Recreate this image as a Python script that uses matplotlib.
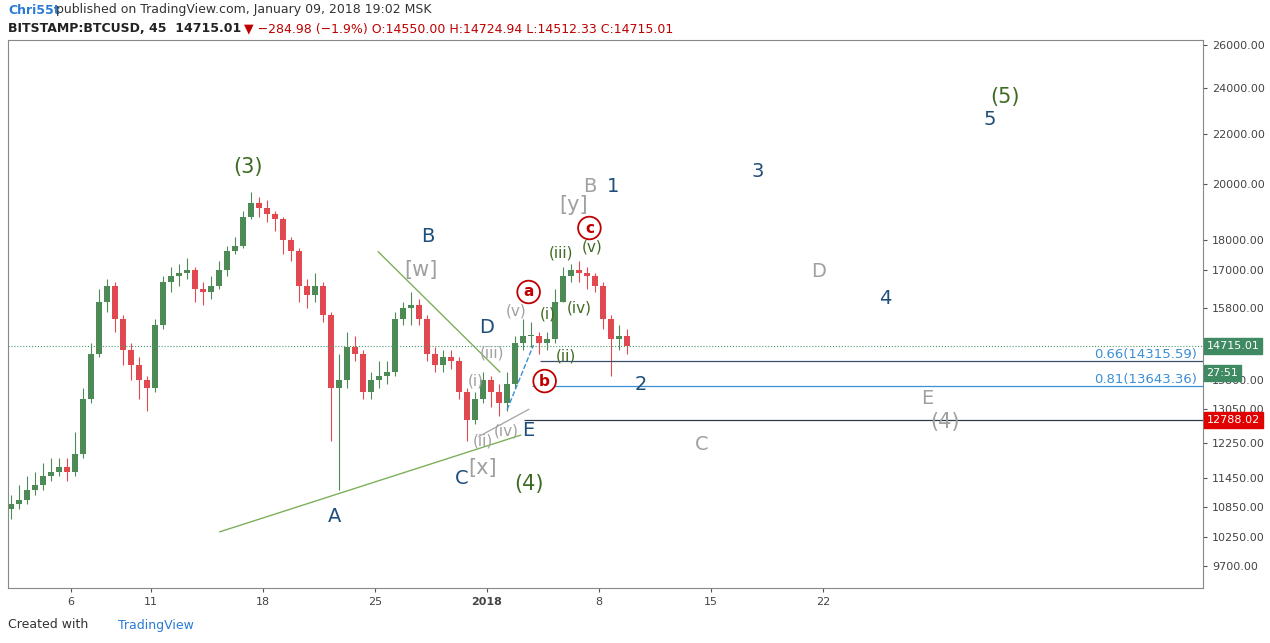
import matplotlib
matplotlib.use("Agg")
import matplotlib.pyplot as plt
from matplotlib.ticker import FixedLocator, NullLocator
import numpy as np

# 12-hour candles starting Dec 2 2017 (day offsets relative to Dec 6)
closes = [10900, 11000, 11200, 11300, 11500, 11600, 11700, 11600, 12000, 13300,
          14500, 16000, 16500, 15500, 14600, 14200, 13800, 13600, 15300, 16600,
          16800, 16900, 17000, 16400, 16300, 16500, 17000, 17600, 17800, 18800,
          19300, 19100, 18900, 18700, 18000, 17600, 16500, 16200, 16500, 15600,
          13600, 13800, 14700, 14500, 13500, 13800, 13900, 14000, 15500, 15800,
          15900, 15500, 14500, 14200, 14400, 14300, 13500, 12800, 13300, 13800,
          13500, 13200, 13700, 14800, 15000, 15000, 14800, 14900, 16000, 16800,
          17000, 16900, 16800, 16500, 15500, 14900, 15000, 14715]
highs = [11100, 11300, 11500, 11600, 11800, 11900, 11900, 11900, 12500, 13600,
         14800, 16400, 16700, 16600, 15600, 14800, 14400, 13900, 15500, 16800,
         17100, 17200, 17400, 17100, 16600, 16800, 17300, 17800, 18100, 19000,
         19700, 19500, 19400, 19000, 18800, 18100, 17700, 16700, 16900, 16600,
         15700, 14500, 15100, 15000, 14600, 14000, 14300, 14300, 15700, 16000,
         16300, 16100, 15600, 14700, 14600, 14600, 14400, 13600, 13500, 14000,
         13900, 13700, 14000, 15000, 15500, 15400, 15100, 15100, 16400, 17100,
         17200, 17300, 17100, 16900, 16600, 15600, 15300, 15200]
lows = [10600, 10800, 10900, 11100, 11200, 11400, 11500, 11400, 11500, 11900,
        13200, 14400, 15700, 15100, 14200, 13800, 13300, 13000, 13500, 15200,
        16300, 16500, 16700, 16000, 15900, 16100, 16400, 16800, 17500, 17700,
        18700, 18800, 18600, 18300, 17500, 17300, 16000, 15800, 16000, 15400,
        12300, 11200, 13600, 14300, 13300, 13300, 13600, 13700, 13900, 15300,
        15300, 15300, 14300, 14000, 14000, 14100, 13300, 12300, 12700, 13200,
        13100, 12900, 13000, 13600, 14600, 14700, 14500, 14600, 14800, 16000,
        16600, 16600, 16400, 16300, 15200, 13900, 14600, 14500]
first_open = 10800

xtick_pos = [0, 5, 12, 19, 26, 33, 40, 47]
xtick_lbl = ["6", "11", "18", "25", "2018", "8", "15", "22"]
ytick_vals = [26000, 24000, 22000, 20000, 18000, 17000, 15800, 13800, 13050,
              12250, 11450, 10850, 10250, 9700]

# wave labels: (text, day, price, color, size, circled)
GREEN, BLUE, GRAY, RED = "#3e6b22", "#1f4e7a", "#a0a0a0", "#c00000"
labels = [
    ("(3)", 11.06, 20650, GREEN, 15, False), ("B", 22.3, 18090, BLUE, 14, False),
    ("[w]", 21.9, 17000, GRAY, 15, False), ("A", 16.5, 10660, BLUE, 14, False),
    ("C", 24.4, 11460, BLUE, 14, False), ("[x]", 25.75, 11680, GRAY, 15, False),
    ("(4)", 28.6, 11340, GREEN, 15, False), ("E", 28.56, 12530, BLUE, 14, False),
    ("(iv)", 27.2, 12530, GRAY, 11, False), ("(ii)", 25.75, 12290, GRAY, 11, False),
    ("(i)", 25.3, 13770, GRAY, 11, False), ("(iii)", 26.3, 14520, GRAY, 11, False),
    ("(v)", 27.8, 15720, GRAY, 11, False), ("D", 26.0, 15250, BLUE, 14, False),
    ("a", 28.6, 16300, RED, 11, True), ("b", 29.6, 13770, RED, 11, True),
    ("c", 32.4, 18400, RED, 11, True),
    ("(i)", 29.8, 15640, GREEN, 11, False), ("(ii)", 30.9, 14440, GREEN, 11, False),
    ("(iii)", 30.6, 17550, GREEN, 11, False), ("(iv)", 31.75, 15820, GREEN, 11, False),
    ("(v)", 32.6, 17750, GREEN, 11, False),
    ("[y]", 31.4, 19220, GRAY, 15, False), ("B", 32.4, 19890, GRAY, 14, False),
    ("1", 33.9, 19890, BLUE, 14, False), ("2", 35.6, 13670, BLUE, 14, False),
    ("C", 39.4, 12200, GRAY, 14, False), ("3", 42.9, 20460, BLUE, 14, False),
    ("D", 46.7, 16930, GRAY, 14, False), ("4", 50.9, 16110, BLUE, 14, False),
    ("E", 53.5, 13310, GRAY, 14, False), ("(4)", 54.6, 12740, GRAY, 15, False),
    ("5", 57.4, 22580, BLUE, 14, False), ("(5)", 58.4, 23580, GREEN, 15, False),
]

fig = plt.figure(figsize=(12.7, 6.43), dpi=100)
ax = fig.add_axes([8/1270, 1-588/643, 1195/1270, 548/643])
ax.set_yscale("log")
ax.set_xlim(-3.94, 70.75)
ax.set_ylim(9305, 26270)

opens = [first_open] + closes[:-1]
for i, (o, h, l, c) in enumerate(zip(opens, highs, lows, closes)):
    x = -4 + i / 2 + 0.25
    col = "#4d8a55" if c >= o else "#e0494f"
    ax.vlines(x, l, h, color=col, lw=0.8)
    ax.bar(x, abs(c - o) or 20, bottom=min(o, c), width=0.32, color=col, lw=0)

# trendlines
ax.plot([9.3, 28.1], [10350, 12430], color="#7cb05a", lw=1)
ax.plot([19.2, 26.8], [17590, 14010], color="#7cb05a", lw=1)
ax.plot([27.25, 28.9], [13040, 14740], color="#3b8fd6", lw=1, ls="--")
ax.plot([25.5, 28.6], [12400, 13050], color="#aaaaaa", lw=1)

# horizontal levels
ax.axhline(14715.01, color="#4a9a6a", lw=0.8, ls=":")
ax.hlines(14315.59, 29.3, 70.75, color="#3a4f6a", lw=0.9)
ax.hlines(13643.36, 28.8, 70.75, color="#3b8fd6", lw=0.9)
ax.hlines(12788.02, 28.3, 70.75, color="#2a3a4a", lw=0.9)
ax.text(70.4, 14315.59, "0.66(14315.59)", color="#3b8fd6", fontsize=9.5,
        ha="right", va="bottom")
ax.text(70.4, 13643.36, "0.81(13643.36)", color="#3b8fd6", fontsize=9.5,
        ha="right", va="bottom")

for t, x, y, col, s, circ in labels:
    if circ:
        ax.text(x, y, t, color=RED, fontsize=s, ha="center", va="center",
                fontweight="bold",
                bbox=dict(boxstyle="circle,pad=0.25", fc="white", ec=RED, lw=1.3))
    else:
        ax.text(x, y, t, color=col, fontsize=s, ha="center", va="center")

# axes styling
ax.grid(False)
for sp in ax.spines.values():
    sp.set_color("#888888")
    sp.set_linewidth(0.8)
ax.yaxis.tick_right()
ax.yaxis.set_major_locator(FixedLocator(ytick_vals))
ax.yaxis.set_minor_locator(NullLocator())
ax.set_yticklabels([f"{v:.2f}" for v in ytick_vals], fontsize=8, color="#444444")
ax.xaxis.set_major_locator(FixedLocator(xtick_pos))
ax.set_xticklabels(xtick_lbl, fontsize=8, color="#444444")
for lbl in ax.get_xticklabels():
    if lbl.get_text() == "2018":
        lbl.set_fontweight("bold")
ax.tick_params(length=3, color="#555555")

# right price tags
def tag(price, text, fc):
    ax.text(1.003, price, text, transform=ax.get_yaxis_transform(), fontsize=8,
            color="white", va="center", ha="left",
            bbox=dict(boxstyle="square,pad=0.25", fc=fc, ec=fc))
tag(14715.01, "14715.01", "#3f8a63")
tag(13980, "27:51", "#3f8a63")
tag(12788.02, "12788.02", "#e00000")

fig.text(8/1270, 1-10/643, "Chri55t", color="#2a7bd6", fontsize=9, va="center",
         fontweight="bold")
fig.text(56/1270, 1-10/643, "published on TradingView.com, January 09, 2018 19:02 MSK",
         color="#333333", fontsize=9, va="center")
fig.text(8/1270, 1-29/643, "BITSTAMP:BTCUSD, 45  14715.01", color="#222222",
         fontsize=9, va="center", fontweight="bold")
fig.text(244/1270, 1-29/643, "\u25bc \u2212284.98 (\u22121.9%) O:14550.00 H:14724.94 L:14512.33 C:14715.01",
         color="#c00000", fontsize=9, va="center")
fig.text(8/1270, 1-625/643, "Created with", color="#333333", fontsize=9, va="center")
fig.text(118/1270, 1-625/643, "TradingView", color="#2a7bd6", fontsize=9, va="center")

fig.savefig("out.png", dpi=100)
